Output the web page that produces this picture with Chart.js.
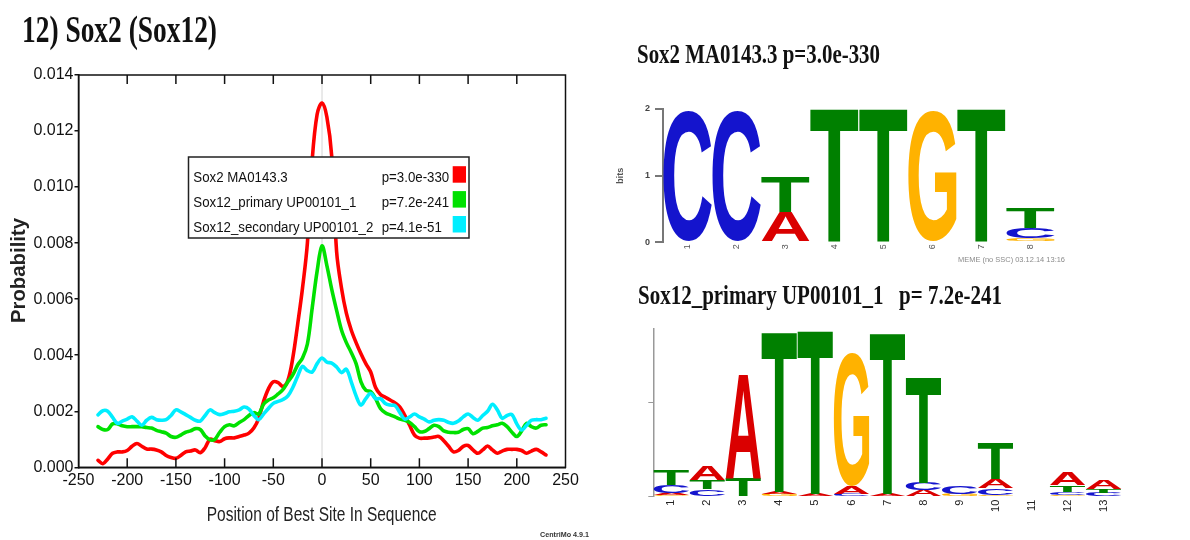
<!DOCTYPE html>
<html>
<head>
<meta charset="utf-8">
<script src="https://cdn.jsdelivr.net/npm/chart.js@4.4.1/dist/chart.umd.min.js"></script>
<style>
  html, body { margin: 0; padding: 0; background: #fff; }
  body { width: 1190px; height: 540px; position: relative; overflow: hidden; }
  .panel { position: absolute; }
</style>
</head>
<body>
<div class="panel" style="left:0;top:0"><canvas id="profile" width="600" height="540"></canvas></div>
<div class="panel" style="left:600px;top:30px"><canvas id="logo-sox2" width="590" height="240"></canvas></div>
<div class="panel" style="left:600px;top:270px"><canvas id="logo-sox12" width="590" height="270"></canvas></div>
<script>
// site position relative to the peak centre
const sitePositions = [
  -230, -225, -220, -215, -210, -205, -200, -195, -190, -185, -180, -175, -170, -165, -160, -155,
  -150, -145, -140, -135, -130, -125, -120, -115, -110, -105, -100, -95, -90, -85, -80, -75,
  -70, -65, -60, -55, -50, -45, -40, -35, -30, -25, -20, -15, -10, -5, 0,
  5, 10, 15, 20, 25, 30, 35, 40, 45, 50, 55, 60, 65, 70, 75, 80,
  85, 90, 95, 100, 105, 110, 115, 120, 125, 130, 135, 140, 145, 150, 155, 160,
  165, 170, 175, 180, 185, 190, 195, 200, 205, 210, 215, 220, 225, 230
];

const sox2Prob = [
  0.00025, 0.00013, 0.00030, 0.00050, 0.00055, 0.00055, 0.00060, 0.00075, 0.00085, 0.00075, 0.00065, 0.00065, 0.00062, 0.00055, 0.00042, 0.00035,
  0.00032, 0.00042, 0.00055, 0.00058, 0.00062, 0.00052, 0.00070, 0.00100, 0.00095, 0.00092, 0.00102, 0.00105, 0.00105, 0.00110, 0.00115, 0.00122,
  0.00140, 0.00175, 0.00235, 0.00280, 0.00305, 0.00302, 0.00288, 0.00310, 0.00390, 0.00510, 0.00640, 0.00800, 0.01100, 0.01260, 0.01300,
  0.01250, 0.01110, 0.00770, 0.00640, 0.00550, 0.00490, 0.00445, 0.00405, 0.00370, 0.00340, 0.00285, 0.00260, 0.00250, 0.00240, 0.00230, 0.00215,
  0.00185, 0.00150, 0.00115, 0.00104, 0.00104, 0.00105, 0.00108, 0.00110, 0.00095, 0.00075, 0.00055, 0.00060, 0.00075, 0.00078, 0.00062, 0.00050,
  0.00062, 0.00076, 0.00062, 0.00050, 0.00058, 0.00064, 0.00064, 0.00064, 0.00060, 0.00050, 0.00058, 0.00064, 0.00055, 0.00044
];

const sox12PrimaryProb = [
  0.00145, 0.00135, 0.00135, 0.00155, 0.00155, 0.00148, 0.00145, 0.00145, 0.00145, 0.00145, 0.00142, 0.00140, 0.00132, 0.00127, 0.00122, 0.00110,
  0.00107, 0.00115, 0.00125, 0.00130, 0.00138, 0.00135, 0.00112, 0.00098, 0.00100, 0.00125, 0.00145, 0.00152, 0.00148, 0.00160, 0.00170, 0.00185,
  0.00195, 0.00190, 0.00225, 0.00240, 0.00248, 0.00262, 0.00278, 0.00305, 0.00330, 0.00365, 0.00390, 0.00440, 0.00570, 0.00700, 0.00790,
  0.00720, 0.00635, 0.00560, 0.00490, 0.00445, 0.00410, 0.00370, 0.00305, 0.00275, 0.00270, 0.00245, 0.00210, 0.00195, 0.00187, 0.00180, 0.00172,
  0.00168, 0.00160, 0.00145, 0.00127, 0.00128, 0.00138, 0.00150, 0.00145, 0.00130, 0.00125, 0.00124, 0.00125, 0.00135, 0.00138, 0.00120, 0.00128,
  0.00140, 0.00142, 0.00148, 0.00152, 0.00157, 0.00145, 0.00125, 0.00110, 0.00130, 0.00157, 0.00145, 0.00140, 0.00150, 0.00152
];

const sox12SecondaryProb = [
  0.00187, 0.00202, 0.00200, 0.00178, 0.00157, 0.00165, 0.00172, 0.00180, 0.00165, 0.00150, 0.00168, 0.00178, 0.00170, 0.00168, 0.00170, 0.00185,
  0.00205, 0.00198, 0.00188, 0.00178, 0.00168, 0.00165, 0.00185, 0.00205, 0.00195, 0.00188, 0.00192, 0.00198, 0.00200, 0.00205, 0.00215, 0.00208,
  0.00185, 0.00170, 0.00190, 0.00210, 0.00228, 0.00235, 0.00242, 0.00255, 0.00285, 0.00325, 0.00360, 0.00345, 0.00340, 0.00370, 0.00390,
  0.00375, 0.00372, 0.00358, 0.00338, 0.00350, 0.00305, 0.00255, 0.00222, 0.00245, 0.00264, 0.00245, 0.00245, 0.00228, 0.00222, 0.00220, 0.00195,
  0.00172, 0.00180, 0.00190, 0.00180, 0.00172, 0.00162, 0.00168, 0.00170, 0.00168, 0.00160, 0.00157, 0.00165, 0.00180, 0.00190, 0.00178, 0.00168,
  0.00185, 0.00200, 0.00225, 0.00205, 0.00175, 0.00185, 0.00188, 0.00155, 0.00133, 0.00150, 0.00168, 0.00170, 0.00170, 0.00175
];

const motifNames = ['Sox2 MA0143.3', 'Sox12_primary UP00101_1', 'Sox12_secondary UP00101_2'];
const motifPValues = ['p=3.0e-330', 'p=7.2e-241', 'p=4.1e-51'];
const motifColors = ['rgb(255,0,0)', 'rgb(0,225,0)', 'rgb(0,238,255)'];

const xTicks = { min: -250, max: 250, step: 50 };
const yTicks = { min: 0, max: 0.014, step: 0.002 };

// sequence logos: letters per column, bottom to top, with their heights in bits
const sox2Positions = ['1', '2', '3', '4', '5', '6', '7', '8'];
const sox2Letters = [['C'], ['C'], ['A', 'T'], ['T'], ['T'], ['G'], ['T'], ['G', 'C', 'T']];
const sox2Bits = [[1.98], [1.98], [0.46, 0.52], [2.0], [2.0], [1.98], [2.0], [0.06, 0.15, 0.30]];

const sox12Positions = ['1', '2', '3', '4', '5', '6', '7', '8', '9', '10', '11', '12', '13'];
const sox12Letters = [
  ['G', 'A', 'C', 'T'],
  ['G', 'C', 'T', 'A'],
  ['T', 'A'],
  ['C', 'G', 'A', 'T'],
  ['G', 'A', 'T'],
  ['C', 'A', 'G'],
  ['G', 'A', 'T'],
  ['A', 'C', 'T'],
  ['G', 'C'],
  ['G', 'C', 'A', 'T'],
  [],
  ['G', 'C', 'T', 'A'],
  ['C', 'T', 'A']
];
const sox12Bits = [
  [0.02, 0.02, 0.08, 0.16],
  [0.01, 0.07, 0.10, 0.15],
  [0.19, 1.10],
  [0.01, 0.02, 0.02, 1.69],
  [0.01, 0.02, 1.74],
  [0.03, 0.08, 1.41],
  [0.01, 0.02, 1.71],
  [0.07, 0.08, 1.12],
  [0.03, 0.08],
  [0.02, 0.07, 0.10, 0.38],
  [],
  [0.02, 0.03, 0.07, 0.13],
  [0.04, 0.04, 0.10]
];

const letterColors = { A: 'rgb(218,0,0)', C: 'rgb(20,20,205)', G: 'rgb(255,178,0)', T: 'rgb(0,128,0)' };

function hasFont(name) {
  const c = document.createElement('canvas').getContext('2d');
  c.font = '20px monospace';
  const a = c.measureText('abcdefgil0123').width;
  c.font = '20px "' + name + '", monospace';
  return c.measureText('abcdefgil0123').width !== a;
}
const narrow = hasFont('Liberation Sans Narrow');
const tickFont = narrow ? { family: '"Liberation Sans Narrow"', size: 18 } : { family: '"Liberation Sans", Arial', size: 16 };

// draws text squeezed/stretched horizontally to a given width
function fitText(ctx, text, x, y, width, font, color, align) {
  ctx.save();
  ctx.font = font;
  ctx.fillStyle = color || '#000';
  ctx.textAlign = 'left';
  ctx.textBaseline = 'alphabetic';
  const s = width / ctx.measureText(text).width;
  ctx.translate(align === 'center' ? x - width / 2 : x, y);
  ctx.scale(s, 1);
  ctx.fillText(text, 0, 0);
  ctx.restore();
}

const profileDecor = {
  id: 'profileDecor',
  beforeDatasetsDraw(chart) {
    const { ctx, chartArea, scales } = chart;
    const x0 = scales.x.getPixelForValue(0);
    ctx.save();
    ctx.strokeStyle = '#d4d4d4';
    ctx.lineWidth = 1;
    ctx.beginPath();
    ctx.moveTo(x0, chartArea.top);
    ctx.lineTo(x0, chartArea.bottom);
    ctx.stroke();
    ctx.restore();
  },
  afterDraw(chart) {
    const { ctx, chartArea, scales } = chart;
    const { left, right, top, bottom } = chartArea;
    ctx.save();
    ctx.strokeStyle = '#111';
    ctx.lineWidth = 1.5;
    ctx.strokeRect(left, top, right - left, bottom - top);
    // inward tick marks on top and bottom edges
    ctx.beginPath();
    scales.x.ticks.forEach(t => {
      if (t.value <= xTicks.min || t.value >= xTicks.max) return;
      const px = scales.x.getPixelForValue(t.value);
      ctx.moveTo(px, top); ctx.lineTo(px, top + 9);
      ctx.moveTo(px, bottom); ctx.lineTo(px, bottom - 9);
    });
    ctx.stroke();

    // legend box
    const bx = 188.5, by = 157, bw = 280.5, bh = 81;
    ctx.fillStyle = '#fff';
    ctx.fillRect(bx, by, bw, bh);
    ctx.strokeStyle = '#222';
    ctx.lineWidth = 1.5;
    ctx.strokeRect(bx, by, bw, bh);
    const legendFont = '14px "Liberation Sans", Arial';
    ctx.font = legendFont;
    const squeeze = 180 / ctx.measureText(motifNames[2]).width;
    chart.data.datasets.forEach((ds, i) => {
      const base = 181.7 + i * 24.9;
      ctx.font = legendFont;
      fitText(ctx, ds.label, 193.3, base, ctx.measureText(ds.label).width * squeeze, legendFont, '#111');
      ctx.font = legendFont;
      fitText(ctx, ds.pValue, 381.7, base, ctx.measureText(ds.pValue).width * squeeze, legendFont, '#111');
      ctx.fillStyle = ds.borderColor;
      ctx.fillRect(452.7, base - 15.5, 13.3, 16.5);
    });

    // titles
    fitText(ctx, '12) Sox2 (Sox12)', 22, 42, 195, 'bold 38px "Liberation Serif", serif', '#111');
    fitText(ctx, 'Position of Best Site In Sequence', 321.7, 521, 230, '20px "Liberation Sans", Arial', '#222', 'center');
    ctx.save();
    ctx.translate(25, 270.5);
    ctx.rotate(-Math.PI / 2);
    fitText(ctx, 'Probability', 0, 0, 105, 'bold 20px "Liberation Sans", Arial', '#222', 'center');
    ctx.restore();
    fitText(ctx, 'CentriMo 4.9.1', 540, 536.5, 49, 'bold 8px "Liberation Sans", Arial', '#333');
    ctx.restore();
  }
};

const profileSeries = [sox2Prob, sox12PrimaryProb, sox12SecondaryProb];

new Chart(document.getElementById('profile'), {
  type: 'line',
  data: {
    datasets: profileSeries.map((vals, i) => ({
      label: motifNames[i],
      pValue: motifPValues[i],
      data: sitePositions.map((x, j) => ({ x: x, y: vals[j] })),
      borderColor: motifColors[i],
      order: 2 - i
    }))
  },
  options: {
    responsive: false,
    animation: false,
    events: [],
    layout: { padding: { left: 0, top: 75, right: 34.5, bottom: 32.7 } },
    elements: {
      point: { radius: 0 },
      line: { borderWidth: 3.6, tension: 0.35, borderCapStyle: 'round', borderJoinStyle: 'round' }
    },
    plugins: { legend: { display: false }, tooltip: { enabled: false } },
    scales: {
      x: {
        type: 'linear',
        min: xTicks.min,
        max: xTicks.max,
        ticks: { stepSize: xTicks.step, font: tickFont, color: '#111', padding: 4, maxRotation: 0, callback: v => String(v) },
        grid: { display: false, drawTicks: false },
        border: { display: true, color: '#111', width: 1.5 },
        afterFit: s => { s.height = 40; }
      },
      y: {
        min: yTicks.min,
        max: yTicks.max,
        ticks: { stepSize: yTicks.step, font: tickFont, color: '#111', padding: 1, callback: v => v.toFixed(3) },
        grid: { drawOnChartArea: false, drawTicks: true, tickLength: 4, color: '#111', lineWidth: 1.5 },
        border: { display: true, color: '#111', width: 1.5 },
        afterFit: s => { s.width = 78.5; }
      }
    }
  },
  plugins: [profileDecor]
});

// each letter is stretched to fill its bar rectangle
function drawLetter(ctx, ch, left, top, w, h) {
  ctx.save();
  ctx.font = 'bold 200px "Liberation Sans", Arial, sans-serif';
  ctx.textAlign = 'left';
  ctx.textBaseline = 'alphabetic';
  const m = ctx.measureText(ch);
  const gw = m.actualBoundingBoxLeft + m.actualBoundingBoxRight;
  const gh = m.actualBoundingBoxAscent + m.actualBoundingBoxDescent;
  ctx.translate(left, top);
  ctx.scale(w / gw, h / gh);
  ctx.fillStyle = letterColors[ch];
  ctx.fillText(ch, m.actualBoundingBoxLeft, m.actualBoundingBoxAscent);
  ctx.restore();
}

const letterGlyphs = {
  id: 'letterGlyphs',
  afterDatasetsDraw(chart) {
    const ctx = chart.ctx;
    chart.data.datasets.forEach((ds, di) => {
      chart.getDatasetMeta(di).data.forEach((bar, i) => {
        const ch = ds.letters[i];
        if (!ch || !(ds.data[i] > 0)) return;
        const { x, y, base, width } = bar.getProps(['x', 'y', 'base', 'width'], true);
        drawLetter(ctx, ch, x - width / 2, Math.min(y, base), width, Math.abs(base - y));
      });
    });
  }
};

const logoNotes = {
  id: 'logoNotes',
  afterDraw(chart) {
    const o = chart.options.plugins.logoNotes;
    fitText(chart.ctx, o.title, o.titleX, o.titleY, o.titleWidth, 'bold 28px "Liberation Serif", serif', '#111');
    if (o.stamp) fitText(chart.ctx, o.stamp, o.stampX, o.stampY, o.stampWidth, '7px "Liberation Sans", Arial', '#8a8a8a');
  }
};

function logoDatasets(letters, bits) {
  const depth = Math.max(...bits.map(c => c.length));
  const sets = [];
  for (let r = 0; r < depth; r++) {
    sets.push({
      data: bits.map(c => c[r] || 0),
      letters: letters.map(c => c[r] || ''),
      backgroundColor: 'rgba(0,0,0,0)',
      borderWidth: 0,
      barPercentage: 1,
      categoryPercentage: 0.985
    });
  }
  return sets;
}

new Chart(document.getElementById('logo-sox2'), {
  type: 'bar',
  data: { labels: sox2Positions, datasets: logoDatasets(sox2Letters, sox2Bits) },
  options: {
    responsive: false,
    animation: false,
    events: [],
    layout: { padding: { left: 15, top: 79, right: 135, bottom: 0 } },
    plugins: {
      legend: { display: false },
      tooltip: { enabled: false },
      logoNotes: {
        title: 'Sox2 MA0143.3 p=3.0e-330', titleX: 37, titleY: 33.3, titleWidth: 243,
        stamp: 'MEME (no SSC) 03.12.14 13:16', stampX: 358, stampY: 232, stampWidth: 107
      }
    },
    scales: {
      x: {
        stacked: true,
        ticks: { font: { size: 9 }, color: '#555', maxRotation: 90, minRotation: 90, padding: 2, autoSkip: false },
        grid: { display: false, drawTicks: false },
        border: { display: false },
        afterFit: s => { s.height = 27.7; }
      },
      y: {
        stacked: true,
        min: 0,
        max: 2,
        ticks: { stepSize: 1, font: { size: 9, weight: 'bold' }, color: '#444', padding: 5 },
        grid: { drawOnChartArea: false, tickLength: 8, color: '#777', lineWidth: 2 },
        border: { display: true, color: '#777', width: 2 },
        title: { display: true, text: 'bits', font: { size: 9, weight: 'bold' }, color: '#555', padding: 0 },
        afterFit: s => { s.width = 48; }
      }
    }
  },
  plugins: [letterGlyphs, logoNotes]
});

new Chart(document.getElementById('logo-sox12'), {
  type: 'bar',
  data: { labels: sox12Positions, datasets: logoDatasets(sox12Letters, sox12Bits) },
  options: {
    responsive: false,
    animation: false,
    events: [],
    layout: { padding: { left: 0, top: 58.3, right: 68.3, bottom: 0 } },
    plugins: {
      legend: { display: false },
      tooltip: { enabled: false },
      logoNotes: { title: 'Sox12_primary UP00101_1   p= 7.2e-241', titleX: 38, titleY: 34.3, titleWidth: 364 }
    },
    scales: {
      x: {
        stacked: true,
        ticks: { font: { size: 11 }, color: '#222', maxRotation: 90, minRotation: 90, padding: 3, autoSkip: false },
        grid: { display: false, drawTicks: false },
        border: { display: false },
        afterFit: s => { s.height = 43.3; }
      },
      y: {
        stacked: true,
        min: 0,
        max: 1.784,
        afterBuildTicks: s => { s.ticks = s.ticks.filter(t => Number.isInteger(t.value)); },
        ticks: { stepSize: 1, display: false },
        grid: { drawOnChartArea: false, tickLength: 5, color: '#999', lineWidth: 1 },
        border: { display: true, color: '#999', width: 1.5 },
        afterFit: s => { s.width = 53.3; }
      }
    }
  },
  plugins: [letterGlyphs, logoNotes]
});
</script>
</body>
</html>
